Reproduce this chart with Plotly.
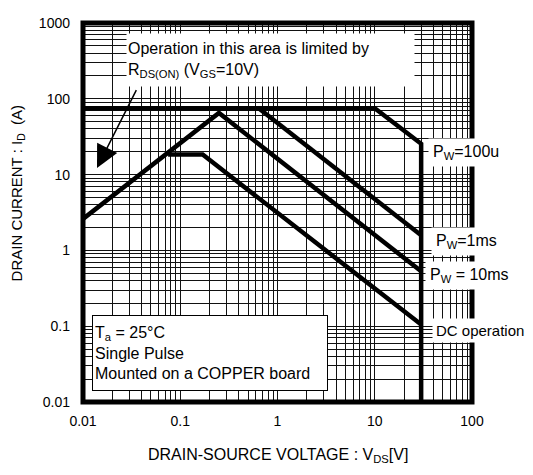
import plotly.graph_objects as go

# ---- data ----
v_100us = [0.01, 10, 30, 30]
i_100us = [75, 75, 25.5, 0.01]
v_1ms = [0.64, 30]
i_1ms = [75, 1.58]
v_10ms = [0.01, 0.25, 30]
i_10ms = [2.6, 65, 0.53]
v_dc = [0.075, 0.17, 30]
i_dc = [18.4, 18.4, 0.105]

x_ticks = [0.01, 0.1, 1, 10, 100]
x_ticktext = ["0.01", "0.1", "1", "10", "100"]
y_ticks = [0.01, 0.1, 1, 10, 100, 1000]
y_ticktext = ["0.01", "0.1", "1", "10", "100", "1000"]

FONT = "Liberation Sans, Arial, sans-serif"

# plot area in screen pixels of the reference (page has an 8px body offset)
PL, PR, PT, PB = 83, 472, 15, 402
OFF = 8
W, H = 533 - 2 * OFF, 475 - 2 * OFF
PW, PH = PR - PL, PB - PT


def px(x):
    return (x - PL) / PW


def py(y):
    return (PB - y) / PH


fig = go.Figure()
for vs, cs in [(v_100us, i_100us), (v_1ms, i_1ms), (v_10ms, i_10ms), (v_dc, i_dc)]:
    fig.add_trace(go.Scatter(x=vs, y=cs, mode="lines",
                             line=dict(color="black", width=4.5),
                             showlegend=False, hoverinfo="skip", cliponaxis=True))

grid = dict(showgrid=True, gridcolor="#111", gridwidth=1)
fig.update_xaxes(type="log", range=[-2, 2], tickvals=x_ticks, ticktext=x_ticktext,
                 showline=False, zeroline=False, ticks="", ticklabelstandoff=9,
                 ticklabeloverflow="allow",
                 tickfont=dict(family=FONT, size=14, color="black"),
                 minor=dict(dtick="D1", **grid), **grid)
fig.update_yaxes(type="log", range=[-2, 3], tickvals=y_ticks, ticktext=y_ticktext,
                 showline=False, zeroline=False, ticks="", ticklabelstandoff=12,
                 ticklabeloverflow="allow",
                 tickfont=dict(family=FONT, size=14, color="black"),
                 minor=dict(dtick="D1", **grid), **grid)

shapes = [dict(type="rect", xref="paper", yref="paper", x0=0, y0=0, x1=1, y1=1,
               line=dict(color="black", width=5), layer="above")]

ann = []
# axis titles
ann.append(dict(xref="paper", yref="paper", x=px(278), y=py(457), xanchor="center",
                yanchor="middle", showarrow=False,
                text="DRAIN-SOURCE VOLTAGE : V<sub>DS</sub>[V]",
                font=dict(family=FONT, size=16, color="black")))
ann.append(dict(xref="paper", yref="paper", x=px(17), y=py(189), xanchor="center",
                yanchor="middle", showarrow=False,
                textangle=-90, text="DRAIN CURRENT : I<sub>D</sub>  (A)",
                font=dict(family=FONT, size=15, color="black")))
# limited-by box
ann.append(dict(xref="paper", yref="paper", x=px(126), y=py(25), xanchor="left", yanchor="top",
                showarrow=False, align="left", valign="middle", width=285, height=50,
                bgcolor="white", borderpad=1,
                text="Operation in this area is limited by<br>R<sub>DS(ON)</sub> (V<sub>GS</sub>=10V)",
                font=dict(family=FONT, size=16, color="black")))
# arrow
ann.append(dict(xref="x", yref="y", axref="x", ayref="y",
                x=-1.856, y=1.088, ax=-1.444, ay=2.134, text="", showarrow=True,
                arrowhead=2, arrowsize=3, arrowwidth=1.5, arrowcolor="black"))
# conditions box
ann.append(dict(xref="paper", yref="paper", x=px(92), y=py(313), xanchor="left", yanchor="top",
                showarrow=False, align="left", valign="middle", width=230, height=70,
                bgcolor="white", bordercolor="black", borderwidth=1, borderpad=2,
                text="T<sub>a</sub> = 25°C<br>Single Pulse<br>Mounted on a COPPER board",
                font=dict(family=FONT, size=16, color="black")))
# curve labels
for txt, xl, yc, fs, pad in [("P<sub>W</sub>=100u", 428, 147, 16, 4),
                             ("P<sub>W</sub>=1ms", 431, 238, 16, 4),
                             ("P<sub>W</sub> = 10ms", 425, 273, 16, 4),
                             ("DC operation", 432, 329, 15, 3)]:
    ann.append(dict(xref="paper", yref="paper", x=px(xl), y=py(yc),
                    xanchor="left", yanchor="middle", showarrow=False, bgcolor="white",
                    borderpad=pad, text=txt, font=dict(family=FONT, size=fs, color="black")))

fig.update_layout(width=W, height=H,
                  margin=dict(l=PL - OFF, r=W - (PR - OFF), t=PT - OFF, b=H - (PB - OFF)),
                  paper_bgcolor="white", plot_bgcolor="white", annotations=ann,
                  shapes=shapes, font=dict(family=FONT, color="black"))
fig.write_html("out.html")
